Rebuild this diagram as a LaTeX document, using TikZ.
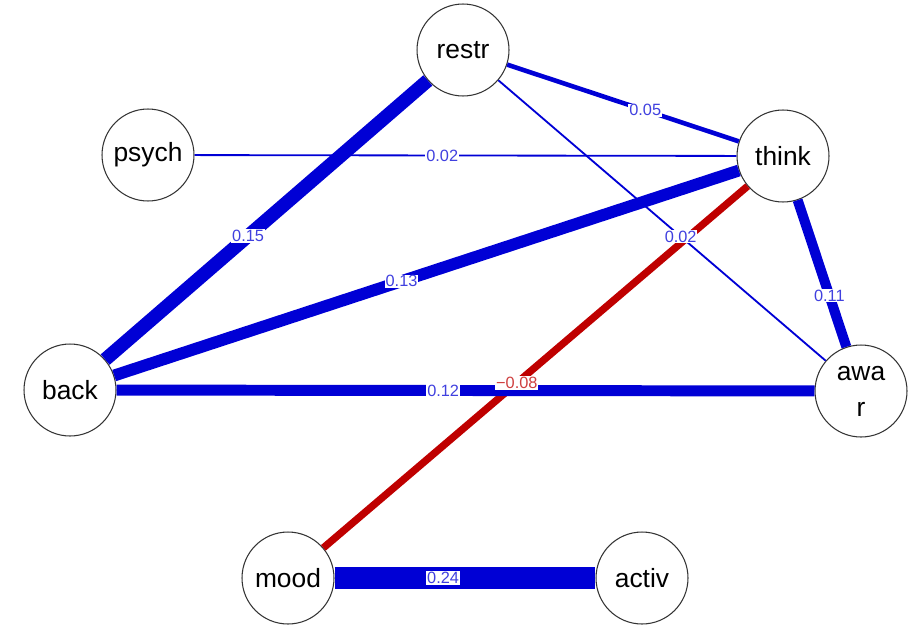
\documentclass[tikz,border=0pt]{standalone}
\usepackage{fontspec}
\setmainfont{Liberation Sans}
\definecolor{poscol}{HTML}{0000D5}
\definecolor{negcol}{HTML}{BF0000}
\begin{document}
\begin{tikzpicture}[
    x=0.02cm, y=-0.02cm,
    var/.style={
      draw=black!80,
      fill=white,
      circle,
      line width=0.6pt,
      minimum size=1.84cm,
      inner sep=0pt,
      align=center,
      font=\fontsize{15}{20.4}\selectfont
      },
    wlab/.style={
      fill=white,
      inner sep=0.5pt,
      font=\fontsize{9.3}{10}\selectfont
      }
 ]
\useasboundingbox (0,0) rectangle (915,629);
\node[var] (restr) at (463,50) {restr};
\node[var] (psych) at (148,155) {psych};
\node[var] (think) at (783,156) {think};
\node[var] (back) at (70,390) {back};
\node[var] (awar) at (861,391) {awa\\r};
\node[var] (mood) at (288,578) {mood};
\node[var] (activ) at (642,578) {activ};
% edges, weakest first
\foreach \a/\b/\w/\c in {psych/think/1.04/poscol, restr/awar/1.04/poscol,
  restr/think/2.6/poscol, think/mood/4.16/negcol, think/awar/5.72/poscol,
  back/awar/6.24/poscol, think/back/6.76/poscol, restr/back/7.8/poscol,
  mood/activ/12.5/poscol}
  \draw[line width=\w pt, draw=\c] (\a) -- (\b);
\foreach \a/\b/\p/\c/\t in {psych/think/0.457/poscol/0.02, restr/awar/0.557/poscol/0.02,
  restr/think/0.596/poscol/0.05, think/mood/0.544/negcol/−0.08, think/awar/0.65/poscol/0.11,
  back/awar/0.468/poscol/0.12, think/back/0.54/poscol/0.13, restr/back/0.557/poscol/0.15,
  mood/activ/0.416/poscol/0.24}
  \path (\a) -- node[wlab, text=\c!75!white, pos=\p] {\t} (\b);
\end{tikzpicture}
\end{document}
